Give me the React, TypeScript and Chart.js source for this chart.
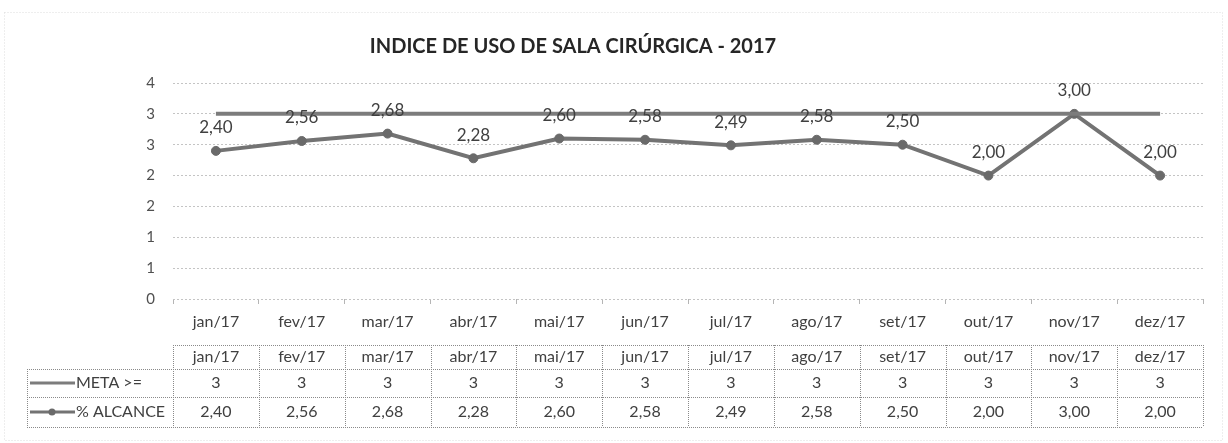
import React, { useEffect, useRef } from "react";
import { Chart, registerables } from "chart.js";

Chart.register(...registerables);

const title = "INDICE DE USO DE SALA CIRÚRGICA - 2017";
const categories = ["jan/17", "fev/17", "mar/17", "abr/17", "mai/17", "jun/17", "jul/17", "ago/17", "set/17", "out/17", "nov/17", "dez/17"];
const metaLabel = "META >=";
const alcanceLabel = "% ALCANCE";
const metaValues = [3, 3, 3, 3, 3, 3, 3, 3, 3, 3, 3, 3];
const alcanceValues = [2.4, 2.56, 2.68, 2.28, 2.6, 2.58, 2.49, 2.58, 2.5, 2.0, 3.0, 2.0];
const yMin = 0;
const yMax = 3.5;
const yStep = 0.5;

const FONT = "Lato, 'Open Sans', sans-serif";
const TEXT = "#404040";
const LINE_META = "#7c7c7c";
const LINE_ALC = "#737373";

const fmt2 = (v: number) => v.toFixed(2).replace(".", ",");

const titlePlugin = {
  id: "customTitle",
  afterDraw(chart: any) {
    const ctx = chart.ctx;
    ctx.save();
    ctx.fillStyle = "#262626";
    ctx.font = `bold 20px ${FONT}`;
    ctx.textAlign = "center";
    ctx.textBaseline = "middle";
    ctx.fillText(title, 573, 47);
    ctx.restore();
  },
};

const borderPlugin = {
  id: "outerBorder",
  beforeDraw(chart: any) {
    const ctx = chart.ctx;
    ctx.save();
    ctx.strokeStyle = "#dcdcdc";
    ctx.lineWidth = 1;
    ctx.setLineDash([1, 2]);
    ctx.strokeRect(4.5, 12.5, 1218, 428);
    ctx.restore();
  },
};

const labelPlugin = {
  id: "dataLabels",
  afterDatasetsDraw(chart: any) {
    const ctx = chart.ctx;
    const meta = chart.getDatasetMeta(1);
    ctx.save();
    ctx.fillStyle = TEXT;
    ctx.font = `17px ${FONT}`;
    ctx.textAlign = "center";
    ctx.textBaseline = "middle";
    meta.data.forEach((p: any, i: number) => {
      ctx.fillText(fmt2(alcanceValues[i]), p.x, p.y - 23);
    });
    ctx.restore();
  },
};

const tablePlugin = {
  id: "dataTable",
  afterDraw(chart: any) {
    const ctx = chart.ctx;
    const xs = chart.scales.x;
    const area = chart.chartArea;
    const n = categories.length;
    const cw = (area.right - area.left) / n;
    const b = area.bottom;
    const r0 = b + 46;
    const r1 = b + 70;
    const r2 = b + 98;
    const r3 = b + 128;
    const legendLeft = 27;
    const left = area.left;
    const right = area.right;

    ctx.save();
    ctx.strokeStyle = "#8a8a8a";
    ctx.lineWidth = 1;
    ctx.setLineDash([1, 1]);
    const hline = (y: number, x1: number, x2: number) => {
      ctx.beginPath();
      ctx.moveTo(x1, Math.round(y) + 0.5);
      ctx.lineTo(x2, Math.round(y) + 0.5);
      ctx.stroke();
    };
    const vline = (x: number, y1: number, y2: number) => {
      ctx.beginPath();
      ctx.moveTo(Math.round(x) + 0.5, y1);
      ctx.lineTo(Math.round(x) + 0.5, y2);
      ctx.stroke();
    };
    hline(r0, left, right);
    hline(r1, legendLeft, right);
    hline(r2, legendLeft, right);
    hline(r3, legendLeft, right);
    vline(legendLeft, r1, r3);
    for (let i = 0; i <= n; i++) {
      vline(left + i * cw, r0, r3);
    }
    ctx.setLineDash([]);

    ctx.fillStyle = TEXT;
    ctx.font = `16px ${FONT}`;
    ctx.textAlign = "center";
    ctx.textBaseline = "middle";
    categories.forEach((c, i) => {
      const cx = xs.getPixelForValue(i);
      ctx.fillText(c, cx, (r0 + r1) / 2);
      ctx.fillText(String(metaValues[i]), cx, (r1 + r2) / 2);
      ctx.fillText(fmt2(alcanceValues[i]), cx, (r2 + r3) / 2);
    });

    // legend keys
    const my = (r1 + r2) / 2;
    const ay = (r2 + r3) / 2;
    ctx.lineWidth = 3;
    ctx.strokeStyle = LINE_META;
    ctx.beginPath();
    ctx.moveTo(30, my);
    ctx.lineTo(75, my);
    ctx.stroke();
    ctx.strokeStyle = LINE_ALC;
    ctx.beginPath();
    ctx.moveTo(30, ay);
    ctx.lineTo(75, ay);
    ctx.stroke();
    ctx.fillStyle = "#6a6a6a";
    ctx.beginPath();
    ctx.arc(52, ay, 3.5, 0, Math.PI * 2);
    ctx.fill();

    ctx.fillStyle = TEXT;
    ctx.textAlign = "left";
    ctx.font = `16px ${FONT}`;
    ctx.fillText(metaLabel, 76, my);
    ctx.fillText(alcanceLabel, 76, ay);
    ctx.restore();
  },
};

export default function App() {
  const ref = useRef<HTMLCanvasElement | null>(null);

  useEffect(() => {
    document.body.style.margin = "0";
    if (!ref.current) return;
    const chart = new Chart(ref.current, {
      type: "line",
      data: {
        labels: categories,
        datasets: [
          {
            label: metaLabel,
            data: metaValues,
            borderColor: LINE_META,
            borderWidth: 4,
            pointRadius: 0,
            tension: 0,
          },
          {
            label: alcanceLabel,
            data: alcanceValues,
            borderColor: LINE_ALC,
            borderWidth: 4,
            pointRadius: 4.5,
            pointBackgroundColor: "#6a6a6a",
            pointBorderColor: "#6a6a6a",
            pointBorderWidth: 1,
            tension: 0,
          },
        ],
      },
      options: {
        responsive: false,
        animation: false,
        devicePixelRatio: 1,
        layout: { padding: { left: 10, right: 25, top: 83, bottom: 104 } },
        plugins: {
          legend: { display: false },
          title: { display: false },
          tooltip: { enabled: false },
        },
        scales: {
          x: {
            offset: true,
            afterFit: (s: any) => {
              s.height = 40;
            },
            grid: {
              offset: true,
              drawOnChartArea: false,
              drawTicks: true,
              tickLength: 5,
              color: "#b5b5b5",
            },
            border: { display: false },
            ticks: {
              color: TEXT,
              font: { family: FONT, size: 16 },
              padding: 8,
              maxRotation: 0,
            },
          },
          y: {
            min: yMin,
            max: yMax,
            afterFit: (s: any) => {
              s.width = 163;
            },
            grid: {
              color: "#c4c4c4",
              drawTicks: false,
              lineWidth: 1,
            },
            border: { display: false, dash: [2, 2] },
            ticks: {
              stepSize: yStep,
              color: "#505050",
              font: { family: FONT, size: 15 },
              padding: 18,
              callback: (v: any) => String(Math.round(Number(v))),
            },
          },
        },
      },
      plugins: [borderPlugin, titlePlugin, labelPlugin, tablePlugin],
    });
    return () => chart.destroy();
  }, []);

  return (
    <div style={{ width: 1228, height: 443, background: "#fff" }}>
      <canvas ref={ref} width={1228} height={443} style={{ display: "block" }} />
    </div>
  );
}
